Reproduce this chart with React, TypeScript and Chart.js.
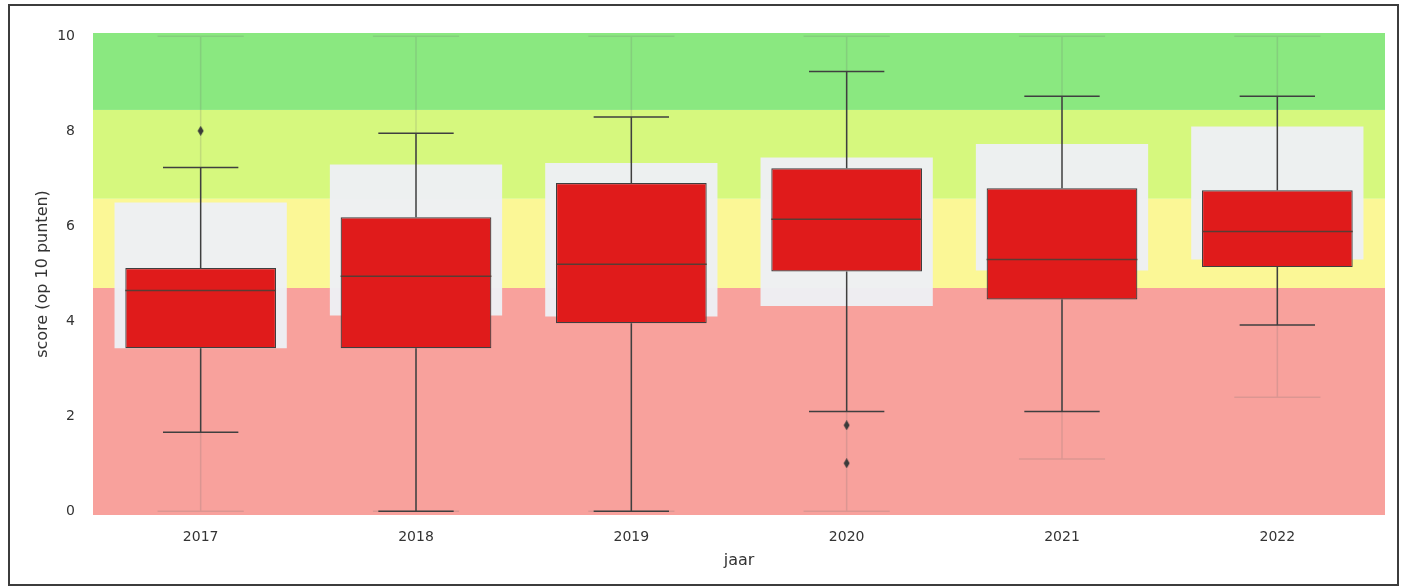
import { useEffect, useRef } from 'react';
import { Chart, registerables } from 'chart.js';

Chart.register(...registerables);

const categories = ['2017', '2018', '2019', '2020', '2021', '2022'];

// main series (red boxes)
const scoreQ1 = [3.43, 3.43, 3.96, 5.05, 4.46, 5.14];
const scoreMedian = [4.65, 4.95, 5.2, 6.15, 5.3, 5.89];
const scoreQ3 = [5.12, 6.19, 6.91, 7.22, 6.8, 6.76];
const scoreWhiskerLow = [1.66, 0, 0, 2.1, 2.1, 3.92];
const scoreWhiskerHigh = [7.24, 7.96, 8.3, 9.26, 8.74, 8.74];
const outlierYears = ['2017', '2020', '2020'];
const outlierValues = [8.01, 1.81, 1.01];

// reference series (light boxes behind)
const refQ1 = [3.43, 4.12, 4.1, 4.32, 5.07, 5.3];
const refQ3 = [6.5, 7.3, 7.33, 7.45, 7.73, 8.1];
const refWhiskerLow = [0, 0, 0, 0, 1.1, 2.4];
const refWhiskerHigh = [10, 10, 10, 10, 10, 10];

// background score bands
const bandEdges = [0, 4.7, 6.58, 8.45, 10];
const bandColors = ['#f8a19c', '#fbf796', '#d6f87e', '#8ae880'];

const yTicks = [0, 2, 4, 6, 8, 10];

const REF_WIDTH = 0.8;
const SCORE_WIDTH = 0.7;

function drawWhiskers(
  chart: any,
  q1: number[],
  q3: number[],
  lo: number[],
  hi: number[],
  widthFrac: number,
  color: string,
  lw: number
) {
  const { ctx, scales } = chart;
  const x = scales.x;
  const y = scales.y;
  const catW = x.getPixelForValue(1) - x.getPixelForValue(0);
  const capHalf = (catW * widthFrac) / 4;
  ctx.save();
  ctx.strokeStyle = color;
  ctx.lineWidth = lw;
  for (let i = 0; i < categories.length; i++) {
    const cx = x.getPixelForValue(i);
    const pHi = y.getPixelForValue(hi[i]);
    const pQ3 = y.getPixelForValue(q3[i]);
    const pQ1 = y.getPixelForValue(q1[i]);
    const pLo = y.getPixelForValue(lo[i]);
    ctx.beginPath();
    ctx.moveTo(cx, pHi);
    ctx.lineTo(cx, pQ3);
    ctx.moveTo(cx, pQ1);
    ctx.lineTo(cx, pLo);
    ctx.moveTo(cx - capHalf, pHi);
    ctx.lineTo(cx + capHalf, pHi);
    ctx.moveTo(cx - capHalf, pLo);
    ctx.lineTo(cx + capHalf, pLo);
    ctx.stroke();
  }
  ctx.restore();
}

const boxPlugin = {
  id: 'boxExtras',
  beforeDatasetsDraw(chart: any) {
    const { ctx, chartArea: a, scales } = chart;
    const y = scales.y;
    ctx.save();
    for (let i = 0; i < bandColors.length; i++) {
      const top = i === bandColors.length - 1 ? a.top : y.getPixelForValue(bandEdges[i + 1]);
      const bottom = i === 0 ? a.bottom : y.getPixelForValue(bandEdges[i]);
      ctx.fillStyle = bandColors[i];
      ctx.fillRect(a.left, top, a.right - a.left, bottom - top);
    }
    ctx.restore();
  },
  beforeDatasetDraw(chart: any, args: any) {
    if (args.index === 0) {
      drawWhiskers(chart, refQ1, refQ3, refWhiskerLow, refWhiskerHigh, REF_WIDTH, 'rgba(110,110,110,0.2)', 1.5);
    }
    if (args.index === 1) {
      drawWhiskers(chart, scoreQ1, scoreQ3, scoreWhiskerLow, scoreWhiskerHigh, SCORE_WIDTH, '#3f3f3f', 1.5);
    }
  },
  afterDatasetDraw(chart: any, args: any) {
    if (args.index !== 1) return;
    const { ctx, scales } = chart;
    const x = scales.x;
    const y = scales.y;
    const catW = x.getPixelForValue(1) - x.getPixelForValue(0);
    const half = (catW * SCORE_WIDTH) / 2;
    ctx.save();
    ctx.strokeStyle = '#5a3c34';
    ctx.lineWidth = 1.5;
    for (let i = 0; i < categories.length; i++) {
      const cx = x.getPixelForValue(i);
      const py = y.getPixelForValue(scoreMedian[i]);
      ctx.beginPath();
      ctx.moveTo(cx - half, py);
      ctx.lineTo(cx + half, py);
      ctx.stroke();
    }
    ctx.restore();
  },
};

function makeDiamond() {
  const c = document.createElement('canvas');
  c.width = 7;
  c.height = 10;
  const g = c.getContext('2d')!;
  g.fillStyle = '#3a3a3a';
  g.beginPath();
  g.moveTo(3.5, 0);
  g.lineTo(6.5, 5);
  g.lineTo(3.5, 10);
  g.lineTo(0.5, 5);
  g.closePath();
  g.fill();
  return c;
}

export default function App() {
  const ref = useRef<HTMLCanvasElement | null>(null);

  useEffect(() => {
    if (!ref.current) return;
    const tickFont = { family: '"DejaVu Sans", sans-serif', size: 14 };
    const titleFont = { family: '"DejaVu Sans", sans-serif', size: 16 };
    const textColor = '#333333';
    const chart = new Chart(ref.current, {
      type: 'bar',
      data: {
        labels: categories,
        datasets: [
          {
            type: 'bar',
            label: 'referentie',
            data: categories.map((_, i) => [refQ1[i], refQ3[i]]) as any,
            backgroundColor: 'rgba(237,240,244,0.97)',
            borderWidth: 0,
            barPercentage: REF_WIDTH,
            categoryPercentage: 1,
            grouped: false,
            order: 3,
          } as any,
          {
            type: 'bar',
            label: 'score',
            data: categories.map((_, i) => [scoreQ1[i], scoreQ3[i]]) as any,
            backgroundColor: '#e01b1b',
            borderColor: '#3f3f3f',
            borderWidth: 1.2,
            borderSkipped: false,
            barPercentage: SCORE_WIDTH,
            categoryPercentage: 1,
            grouped: false,
            order: 2,
          } as any,
          {
            type: 'line',
            label: 'uitschieters',
            data: outlierYears.map((c, i) => ({ x: c, y: outlierValues[i] })) as any,
            showLine: false,
            pointStyle: makeDiamond() as any,
            pointRadius: 5,
            order: 1,
          } as any,
        ],
      },
      options: {
        responsive: false,
        animation: false,
        layout: { padding: { left: 29, right: 17, top: 33, bottom: 13 } },
        plugins: { legend: { display: false }, tooltip: { enabled: false } },
        scales: {
          x: {
            grid: { display: false },
            border: { display: false },
            ticks: { font: tickFont, color: textColor, padding: 6 },
            title: { display: true, text: 'jaar', font: titleFont, color: textColor },
            afterFit(s: any) {
              s.height = 59;
            },
          },
          y: {
            min: -0.08,
            max: 10.07,
            grid: { display: false },
            border: { display: false },
            afterBuildTicks(s: any) {
              s.ticks = yTicks.map((v) => ({ value: v }));
            },
            ticks: { font: tickFont, color: textColor, padding: 10 },
            title: { display: true, text: 'score (op 10 punten)', font: titleFont, color: textColor },
            afterFit(s: any) {
              s.width = 64;
            },
          },
        },
      } as any,
      plugins: [boxPlugin],
    });
    return () => chart.destroy();
  }, []);

  return (
    <div style={{ position: 'fixed', left: 0, top: 0, width: 1402, height: 587, background: '#ffffff' }}>
      <canvas ref={ref} width={1402} height={587} style={{ position: 'absolute', left: 0, top: 0 }} />
      <div
        style={{
          position: 'absolute',
          left: 8,
          top: 4,
          width: 1391,
          height: 582,
          border: '2px solid #3c3c3c',
          boxSizing: 'border-box',
          pointerEvents: 'none',
        }}
      />
    </div>
  );
}
